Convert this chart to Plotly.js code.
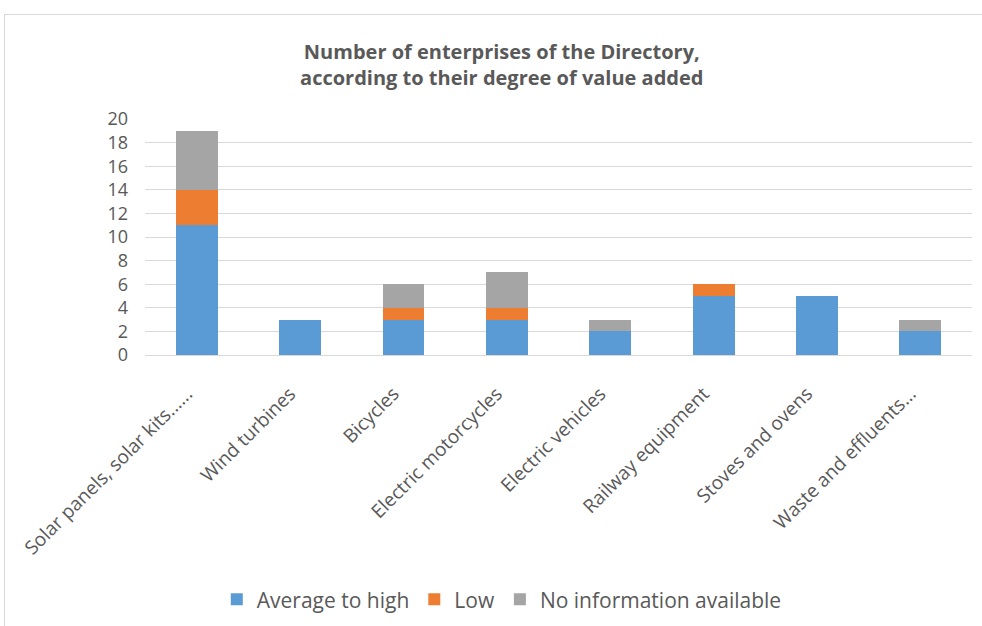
<!DOCTYPE html>
<html>
<head>
<meta charset="utf-8">
<script src="https://cdn.plot.ly/plotly-3.0.1.min.js"></script>
<style>
  html, body { margin: 0; padding: 0; background: #ffffff; }
  #chart { width: 982px; height: 626px; }
  #frame { position: absolute; left: 4px; top: 14px; width: 1000px; height: 700px;
           border-left: 1px solid #d9d9d9; border-top: 1px solid #d9d9d9; pointer-events: none; }
</style>
</head>
<body>
<div id="chart"></div>
<div id="frame"></div>
<script>
const categories = ["Solar panels, solar kits......", "Wind turbines", "Bicycles", "Electric motorcycles",
                    "Electric vehicles", "Railway equipment", "Stoves and ovens", "Waste and effluents..."];
const averageToHigh = [11, 3, 3, 3, 2, 5, 5, 2];
const low = [3, 0, 1, 1, 0, 1, 0, 0];
const noInfo = [5, 0, 2, 3, 1, 0, 0, 1];
const seriesNames = ["Average to high", "Low", "No information available"];
const yTicks = [0, 2, 4, 6, 8, 10, 12, 14, 16, 18, 20];

const font = "'Open Sans', sans-serif";
const traces = [
  { type: "bar", name: seriesNames[0], x: categories, y: averageToHigh, marker: { color: "#5B9BD5" } },
  { type: "bar", name: seriesNames[1], x: categories, y: low, marker: { color: "#ED7D31" } },
  { type: "bar", name: seriesNames[2], x: categories, y: noInfo, marker: { color: "#A5A5A5" } }
];

const layout = {
  width: 982, height: 626,
  barmode: "stack",
  bargap: 0.595,
  paper_bgcolor: "#ffffff", plot_bgcolor: "#ffffff",
  margin: { l: 145, r: 10, t: 119, b: 271 },
  font: { family: font, color: "#595959", size: 15 },
  title: {
    text: "<b>Number of enterprises of the Directory,<br>according to their degree of value added</b>",
    font: { family: font, size: 20, color: "#595959" },
    x: 0.511, xanchor: "center", y: 0.906, yanchor: "middle", yref: "container"
  },
  xaxis: {
    tickangle: -45, showgrid: false, showline: false, ticks: "",
    tickfont: { family: font, size: 19, color: "#595959" },
    ticklabelshift: -10, ticklabelstandoff: 23
  },
  yaxis: {
    range: [0, 20], tickvals: yTicks, showgrid: true, gridcolor: "#d9d9d9", gridwidth: 1,
    zeroline: true, zerolinecolor: "#d9d9d9", showline: false, ticks: "",
    tickfont: { family: font, size: 18, color: "#595959" }, ticklabelstandoff: 16
  },
  legend: {
    orientation: "h", xref: "container", yref: "container",
    x: 0.511, xanchor: "center", y: 0.042, yanchor: "middle",
    font: { family: font, size: 21, color: "#595959" }, traceorder: "normal",
    itemwidth: 30
  },
  showlegend: true
};

Plotly.newPlot("chart", traces, layout, { displayModeBar: false, staticPlot: true });
</script>
</body>
</html>
